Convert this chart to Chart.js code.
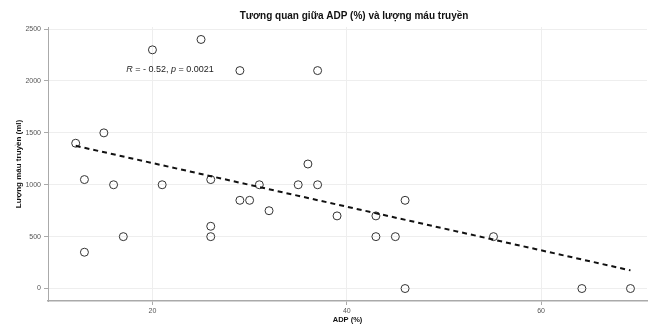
<!DOCTYPE html>
<html>
<head>
<meta charset="utf-8">
<script src="https://cdn.jsdelivr.net/npm/chart.js@4"></script>
<style>
  html, body { margin: 0; padding: 0; background: #fff; }
  #wrap { width: 652px; height: 324px; }
</style>
</head>
<body>
<div id="wrap"><canvas id="chart"></canvas></div>
<script>
// --- data ---
const adpValues = [12.1, 13, 13, 15, 16, 17, 20, 21, 25, 26, 26, 26, 29, 29, 30, 31, 32, 35, 36, 37, 37, 39, 43, 43, 45, 46, 46, 55.1, 64.2, 69.2];
const bloodValues = [1400, 1050, 350, 1500, 1000, 500, 2300, 1000, 2400, 1050, 600, 500, 2100, 850, 850, 1000, 750, 1000, 1200, 2100, 1000, 700, 700, 500, 500, 850, 0, 500, 0, 0];
const trendX = [12.1, 69.2];
const trendY = [1375, 175];
const xTicks = [20, 40, 60];
const yTicks = [0, 500, 1000, 1500, 2000, 2500];
const annoPos = [21.8, 2115];
const annoParts = [['R', true], [' = - 0.52, ', false], ['p', true], [' = 0.0021', false]];
const titleText = 'Tương quan giữa ADP (%) và lượng máu truyền';

const points = adpValues.map((x, i) => ({ x: x, y: bloodValues[i] }));
const trend = trendX.map((x, i) => ({ x: x, y: trendY[i] }));
const FONT = '"Liberation Sans", Arial, sans-serif';

// R / p label and a title centred over the (wider than canvas) plot panel
const annotation = {
    id: 'annotation',
    afterDatasetsDraw(chart) {
        const ctx = chart.ctx;
        const px = chart.scales.x.getPixelForValue(annoPos[0]);
        const py = chart.scales.y.getPixelForValue(annoPos[1]);
        ctx.save();
        ctx.fillStyle = '#222';
        ctx.textBaseline = 'middle';
        let total = 0;
        annoParts.forEach(p => {
            ctx.font = (p[1] ? 'italic ' : '') + '9px ' + FONT;
            total += ctx.measureText(p[0]).width;
        });
        let cx = px - total / 2;
        annoParts.forEach(p => {
            ctx.font = (p[1] ? 'italic ' : '') + '9px ' + FONT;
            ctx.fillText(p[0], cx, py);
            cx += ctx.measureText(p[0]).width;
        });

        const left = chart.chartArea.left;
        ctx.font = 'bold 10px ' + FONT;
        ctx.fillStyle = '#111';
        ctx.textAlign = 'center';
        ctx.fillText(titleText, (left + 660) / 2, 16);
        ctx.restore();
    }
};

new Chart(document.getElementById('chart'), {
    type: 'scatter',
    data: {
        datasets: [{
            type: 'line',
            data: trend,
            borderColor: '#111',
            borderWidth: 2,
            borderDash: [5, 4],
            pointRadius: 0,
            fill: false
        }, {
            data: points,
            pointRadius: 4,
            pointBorderWidth: 1,
            pointBorderColor: '#333',
            pointBackgroundColor: 'rgba(255,255,255,0)'
        }]
    },
    options: {
        responsive: true,
        maintainAspectRatio: false,
        animation: false,
        layout: { padding: { left: 0, right: 0, bottom: 0, top: 27 } },
        plugins: {
            legend: { display: false },
            tooltip: { enabled: false },
            title: { display: false }
        },
        scales: {
            x: {
                type: 'linear',
                min: 9.25,
                max: 70.9,
                afterBuildTicks: axis => { axis.ticks = xTicks.map(v => ({ value: v })); },
                afterFit: axis => { axis.height = 23; },
                border: { color: '#aaa', width: 1.5 },
                grid: { color: '#eeeeee', lineWidth: 1, tickLength: 4, tickColor: '#aaa' },
                ticks: {
                    color: '#555',
                    padding: 2,
                    callback: v => String(v),
                    font: { family: FONT, size: 7 }
                },
                title: {
                    display: true,
                    text: 'ADP (%)',
                    color: '#111',
                    padding: { top: 0, bottom: 0 },
                    font: { family: FONT, size: 7.5, weight: 'bold' }
                }
            },
            y: {
                min: -120,
                max: 2520,
                afterBuildTicks: axis => { axis.ticks = yTicks.map(v => ({ value: v })); },
                afterFit: axis => { axis.width = 48; },
                border: { color: '#aaa', width: 1 },
                grid: { color: '#eeeeee', lineWidth: 1, tickLength: 4, tickColor: '#aaa' },
                ticks: {
                    color: '#555',
                    padding: 3,
                    callback: v => String(v),
                    font: { family: FONT, size: 7 }
                },
                title: {
                    display: true,
                    text: 'Lượng máu truyền (ml)',
                    color: '#111',
                    padding: { top: 14, bottom: 0 },
                    font: { family: FONT, size: 8, weight: 'bold' }
                }
            }
        }
    },
    plugins: [annotation]
});
</script>
</body>
</html>
